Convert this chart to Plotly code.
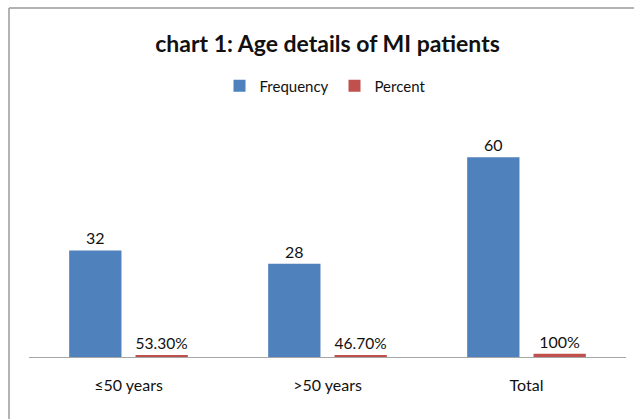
import plotly.graph_objects as go

categories = ["≤50 years", ">50 years", "Total"]
frequency = [32, 28, 60]
percent = [0.533, 0.467, 1.0]
frequency_labels = ["32", "28", "60"]
percent_labels = ["53.30%", "46.70%", "100%"]

W, H = 634, 419
L, R, T, B = 29, 8, 124, 62
FONT = "Lato, Liberation Sans, Arial"

fig = go.Figure()
fig.add_trace(go.Bar(
    name="Frequency", x=categories, y=frequency,
    marker=dict(color="#4F81BD", line=dict(width=0)),
    text=frequency_labels, textposition="outside", cliponaxis=False,
    textfont=dict(size=16, color="#111111", family=FONT),
))
fig.add_trace(go.Bar(
    name="Percent", x=categories, y=percent,
    marker=dict(color="#C0504D", line=dict(width=0)),
    text=percent_labels, textposition="outside", cliponaxis=False,
    textfont=dict(size=16, color="#111111", family=FONT),
))

pw = W - L - R
ph = H - T - B
def px_to_paper_x(px):
    return (px - L) / pw
def px_to_paper_y(py):
    return (H - B - py) / ph

fig.update_layout(
    width=W, height=H,
    margin=dict(l=L, r=R, t=T, b=B, pad=0),
    paper_bgcolor="white", plot_bgcolor="white",
    barmode="group", bargap=0.333, bargroupgap=0.212,
    font=dict(family=FONT, color="#111111"),
    title=dict(text="<b>chart 1: Age details of MI patients</b>",
               x=0.5, xanchor="center", xref="paper", y=1 - 44 / H, yanchor="middle",
               font=dict(size=23, family=FONT, color="#111111")),
    legend=dict(orientation="h", x=0.5 + 7 / pw, xanchor="center", xref="paper",
                y=px_to_paper_y(86), yanchor="middle",
                font=dict(size=15, family=FONT, color="#111111"),
                itemwidth=30, entrywidth=70, traceorder="normal"),
    showlegend=True,
    xaxis=dict(showline=True, linecolor="#A6A6A6", linewidth=1,
               ticks="", tickfont=dict(size=16, family=FONT, color="#111111"),
               ticklabelstandoff=14, showgrid=False, zeroline=False),
    yaxis=dict(range=[0, 70], visible=False, showgrid=False, zeroline=False),
    shapes=[
        dict(type="line", xref="paper", yref="paper",
             x0=px_to_paper_x(9), x1=px_to_paper_x(9),
             y0=px_to_paper_y(8), y1=px_to_paper_y(H + 5),
             line=dict(color="#9A9A9A", width=1.5)),
        dict(type="line", xref="paper", yref="paper",
             x0=px_to_paper_x(9), x1=px_to_paper_x(W + 5),
             y0=px_to_paper_y(8), y1=px_to_paper_y(8),
             line=dict(color="#9A9A9A", width=1.5)),
    ],
)

fig.write_html("out.html", config={"displayModeBar": False},
               post_script="document.body.style.margin='0';")
